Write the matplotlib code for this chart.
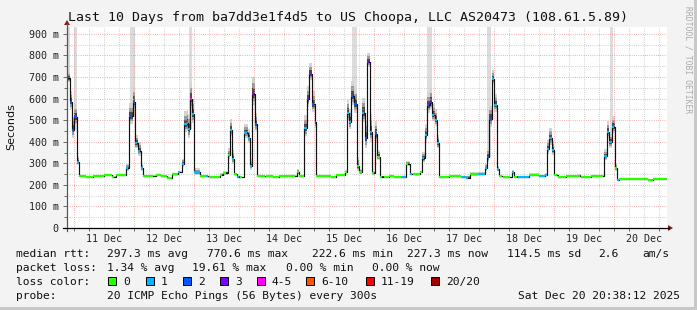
import numpy as np
import matplotlib
matplotlib.use('Agg')
import matplotlib.pyplot as plt
from matplotlib.patches import Rectangle, Polygon
from matplotlib.lines import Line2D

W, H = 697, 310

# ---- data (hours since 11 Dec 00:00) ----
hours = [-3.2, -1.6, -0.93, 0.13, 1.07, 2.13, 4.8, 7.47, 10.13, 12.13, 14.13, 15.07, 16.8, 18.8,
         20.8, 22.13, 23.47, 24.4, 25.47, 26.8, 27.47, 30.8, 32.8, 34.8, 37.2, 39.2, 41.47,
         43.2, 44.13, 45.07, 45.73, 46.4, 47.2, 48.13, 50.53, 52.8, 54.13, 56.13, 58.4, 59.73,
         61.47, 62.4, 63.2, 64.13, 65.07, 66.4, 68.13, 69.47, 70.4, 71.2, 72.4, 73.07, 75.47,
         76.8, 79.47, 82.13, 84.8, 87.47, 89.07, 90.13, 92.13, 93.07, 94.13, 95.2, 96.27, 96.8,
         99.47, 102.8, 104.8, 108.27, 109.07, 110.13, 110.8, 112.13, 113.07, 114.13, 115.07,
         116.4, 117.2, 118.4, 119.2, 120.27, 121.33, 122.27, 124.13, 126.13, 128.13, 130.8,
         132.8, 134.4, 135.47, 138.53, 139.2, 140.27, 141.2, 142.4, 143.2, 144.27, 145.33,
         146.13, 150.13, 152.13, 154.8,
         156.8, 158.4, 161.47, 164.53, 165.2, 166.13, 167.07, 168.13, 169.07, 170.13, 171.47,
         173.47, 175.2, 176.13, 177.47, 182.13, 186.13, 188.53, 189.2, 190.13, 191.2, 192.13,
         193.47, 196.8, 201.47, 202.8, 206.8, 210.8, 212.13, 213.07, 214.13, 215.07, 216.27,
         217.2, 218.13, 223.47, 228.8, 229.47, 231.47, 236.8]
median_ms = [694, 583, 455, 513, 308, 240, 238, 241, 243, 245, 248, 237, 244, 246,
             278, 519, 586, 393, 359, 277, 240, 241, 246, 242, 233, 249, 258,
             297, 481, 485, 459, 598, 529, 258, 240, 240, 237, 235, 248, 254,
             339, 455, 322, 249, 238, 235, 442, 419, 288, 620, 481, 241, 240,
             240, 238, 241, 239, 241, 258, 241, 462, 598, 714, 574, 493, 241,
             240, 238, 248, 258, 535, 493, 612, 574, 288, 258, 535,
             419, 771, 447, 254, 436, 331, 238, 235, 239, 236, 238,
             297, 249, 251, 258, 323, 431, 570, 586, 524, 501, 393,
             238, 240, 243, 235,
             233, 249, 251, 277, 331, 506, 691, 570, 272, 240, 238,
             236, 258, 238, 238, 248, 240, 246, 368, 416, 362, 246,
             238, 240, 243, 238, 240, 241, 334, 447, 397, 470, 277,
             223, 226, 227, 229, 224, 227, 227]
loss = [4, 2, 2, 2, 1, 0, 0, 0, 0, 0, 0, 0, 0, 0,
        1, 2, 2, 1, 1, 1, 0, 0, 0, 0, 0, 0, 1,
        1, 1, 1, 1, 4, 1, 1, 0, 1, 0, 0, 0, 0,
        0, 1, 1, 0, 1, 0, 1, 1, 1, 3, 2, 0, 0,
        0, 0, 0, 0, 0, 0, 0, 1, 3, 3, 2, 2, 0,
        0, 0, 0, 0, 1, 1, 2, 2, 0, 0, 1,
        2, 3, 1, 0, 2, 0, 0, 0, 0, 0, 1,
        0, 1, 0, 0, 1, 1, 2, 3, 1, 1, 1,
        0, 0, 0, 1,
        1, 0, 1, 1, 2, 2, 1, 1, 1, 0, 0,
        0, 1, 0, 1, 0, 1, 1, 1, 1, 1, 0,
        0, 0, 0, 0, 0, 0, 1, 1, 1, 1, 0,
        1, 0, 0, 0, 0, 0, 0]
spread_ms = [30, 50, 60, 60, 25, 3, 2, 2, 2, 3, 4, 2, 2, 3,
             20, 60, 70, 40, 40, 20, 3, 3, 3, 3, 2, 4, 6,
             25, 60, 60, 70, 80, 70, 20, 3, 3, 2, 2, 5, 10,
             30, 50, 40, 8, 4, 2, 40, 40, 30, 80, 50, 3, 3,
             2, 2, 2, 2, 3, 15, 3, 60, 60, 50, 60, 50, 3,
             2, 2, 4, 12, 60, 60, 70, 70, 40, 15, 70,
             80, 40, 80, 10, 60, 30, 3, 2, 2, 2, 2,
             15, 5, 3, 8, 30, 50, 60, 60, 50, 50, 40,
             3, 2, 3, 3,
             10, 10, 8, 20, 40, 60, 40, 50, 15, 3, 2,
             2, 10, 3, 4, 5, 5, 8, 40, 50, 40, 5,
             2, 2, 6, 2, 2, 3, 30, 50, 40, 50, 20,
             3, 2, 2, 3, 2, 2, 2]
end_hour = 237.2
tall_smoke = [(-2.4, -1.6), (0.0, 1.2), (22.4, 24.4), (46.0, 47.2), (111.2, 113.2),
              (141.2, 143.2), (165.2, 166.8), (214.4, 215.6)]

day_labels = ['11 Dec', '12 Dec', '13 Dec', '14 Dec', '15 Dec',
              '16 Dec', '17 Dec', '18 Dec', '19 Dec', '20 Dec']
y_ticks = [0, 100, 200, 300, 400, 500, 600, 700, 800, 900]
y_labels = ['0', '100 m', '200 m', '300 m', '400 m', '500 m', '600 m', '700 m', '800 m', '900 m']

loss_bins = ['0', '1', '2', '3', '4-5', '6-10', '11-19', '20/20']
loss_colors = ['#26ff00', '#00b8ff', '#0059ff', '#7e00ff', '#ff00ff', '#ff5500', '#ff0000', '#a10000']


def loss_color(n):
    if n <= 3:
        return loss_colors[n]
    if n <= 5:
        return loss_colors[4]
    if n <= 10:
        return loss_colors[5]
    if n <= 19:
        return loss_colors[6]
    return loss_colors[7]


MONO = 'DejaVu Sans Mono'
BG = '#f3f3f3'

fig = plt.figure(figsize=(W / 100, H / 100), dpi=100, facecolor=BG)
ax = fig.add_axes([67 / W, (H - 228) / H, 600 / W, 201 / H])
ax.set_facecolor('white')
ax.set_xlim(-2.8, end_hour)
ax.set_ylim(0, 932)
for s in ax.spines.values():
    s.set_visible(False)

hx = np.array(hours + [end_hour])
med = np.array(median_ms + [median_ms[-1]], dtype=float)
spr = np.array(spread_ms + [spread_ms[-1]], dtype=float)

# tall smoke columns (high max pings)
for a, b in tall_smoke:
    i = max(0, np.searchsorted(hx, a, side='right') - 1)
    base = med[i]
    ax.fill_between([a, b], [base, base], [1000, 1000], color='#dcdcdc', lw=0, zorder=1)

# smoke layers
ax.fill_between(hx, med - 0.6 * spr, med + 1.0 * spr, step='post', color='#d4d4d4', lw=0, zorder=1.1)
ax.fill_between(hx, med - 0.4 * spr, med + 0.65 * spr, step='post', color='#9a9a9a', lw=0, zorder=1.2)
ax.fill_between(hx, med - 0.2 * spr, med + 0.35 * spr, step='post', color='#4a4a4a', lw=0, zorder=1.3)

# grid
dots = (0, (0.7, 1.4))
for h in np.arange(0, 240, 6):
    if h % 24 == 0:
        ax.axvline(h, color='#f09a9a', lw=0.75, ls=dots, zorder=1.5)
    else:
        ax.axvline(h, color='#c4c4c4', lw=0.75, ls=dots, zorder=1.5)
for v in range(50, 950, 50):
    if v % 100 == 0:
        ax.axhline(v, color='#f09a9a', lw=0.75, ls=dots, zorder=1.5)
    else:
        ax.axhline(v, color='#c4c4c4', lw=0.75, ls=dots, zorder=1.5)

# median line
ax.step(hx, med, where='post', color='#111111', lw=0.85, zorder=3)
for i in range(len(hours)):
    seg = hx[i + 1] - hx[i]
    end = hx[i + 1] if seg >= 2.0 else hx[i] + min(seg, 0.9)
    ax.hlines(median_ms[i], hx[i], end, color=loss_color(loss[i]), lw=1.6, zorder=4)

# ticks
ax.set_yticks(y_ticks)
ax.set_yticklabels(y_labels, family=MONO, fontsize=7.2, color='#222222')
ax.set_yticks(range(50, 950, 100), minor=True)
ax.set_xticks([12 + 24 * k for k in range(10)])
ax.set_xticklabels(day_labels, family=MONO, fontsize=7.2, color='#222222')
ax.set_xticks(np.arange(0, 240, 6), minor=True)
ax.tick_params(axis='y', which='major', length=3, width=0.6, color='#555555', pad=3)
ax.tick_params(axis='y', which='minor', length=2, width=0.6, color='#555555')
ax.tick_params(axis='x', which='major', length=0, pad=4)
ax.tick_params(axis='x', which='minor', length=2, width=0.6, color='#555555')


def F(x, y):
    return (x / W, 1 - y / H)


# axes lines with arrows
fig.add_artist(Line2D([67 / W, 67 / W], [1 - 231 / H, 1 - 24 / H], color='#555555', lw=0.9))
fig.add_artist(Line2D([63 / W, 669 / W], [1 - 228 / H, 1 - 228 / H], color='#000000', lw=0.9))
fig.add_artist(Polygon([F(64, 25), F(70, 25), F(67, 20)], closed=True, transform=fig.transFigure,
                       facecolor='#8b1a1a', edgecolor='none'))
fig.add_artist(Polygon([F(668, 225), F(668, 231), F(673, 228)], closed=True, transform=fig.transFigure,
                       facecolor='#8b1a1a', edgecolor='none'))

# outer shading border
fig.add_artist(Rectangle((694 / W, 0), 3 / W, 1, transform=fig.transFigure, facecolor='#c8c8c8', edgecolor='none'))
fig.add_artist(Rectangle((0, 0), 1, 3 / H, transform=fig.transFigure, facecolor='#c8c8c8', edgecolor='none'))


def T(x, y, s, size=8.1, **kw):
    kw.setdefault('ha', 'left')
    kw.setdefault('va', 'center')
    kw.setdefault('family', MONO)
    kw.setdefault('color', '#111111')
    fig.text(x / W, 1 - y / H, s, fontsize=size, **kw)


T(348, 18, 'Last 10 Days from ba7dd3e1f4d5 to US Choopa, LLC AS20473 (108.61.5.89)', size=9.5, ha='center')
T(11, 127, 'Seconds', size=8, family='DejaVu Sans', rotation=90, ha='center')
T(688, 60, 'RRDTOOL / TOBI OETIKER', size=5.8, rotation=270, ha='center', color='#aaaaaa')

# legend rows
T(16, 254, 'median rtt:')
T(107, 254, '297.3 ms avg')
T(207, 254, '770.6 ms max')
T(312, 254, '222.6 ms min')
T(407, 254, '227.3 ms now')
T(507, 254, '114.5 ms sd')
T(598, 254, '2.6')
T(642, 254, 'am/s')

T(16, 268, 'packet loss:')
T(107, 268, '1.34 % avg')
T(192, 268, '19.61 % max')
T(286, 268, '0.00 % min')
T(372, 268, '0.00 % now')

T(16, 282, 'loss color:')
box_x = [108, 146, 183, 220, 257, 306, 366, 431]
for bx, lab, col in zip(box_x, loss_bins, loss_colors):
    fig.add_artist(Rectangle(F(bx, 285), 8 / W, 8 / H, transform=fig.transFigure,
                             facecolor=col, edgecolor='#000000', lw=0.7))
    T(bx + 15, 282, lab)

T(16, 296, 'probe:')
T(107, 296, '20 ICMP Echo Pings (56 Bytes) every 300s')
T(680, 296, 'Sat Dec 20 20:38:12 2025', ha='right')

fig.savefig('out.png', dpi=100, facecolor=BG)
